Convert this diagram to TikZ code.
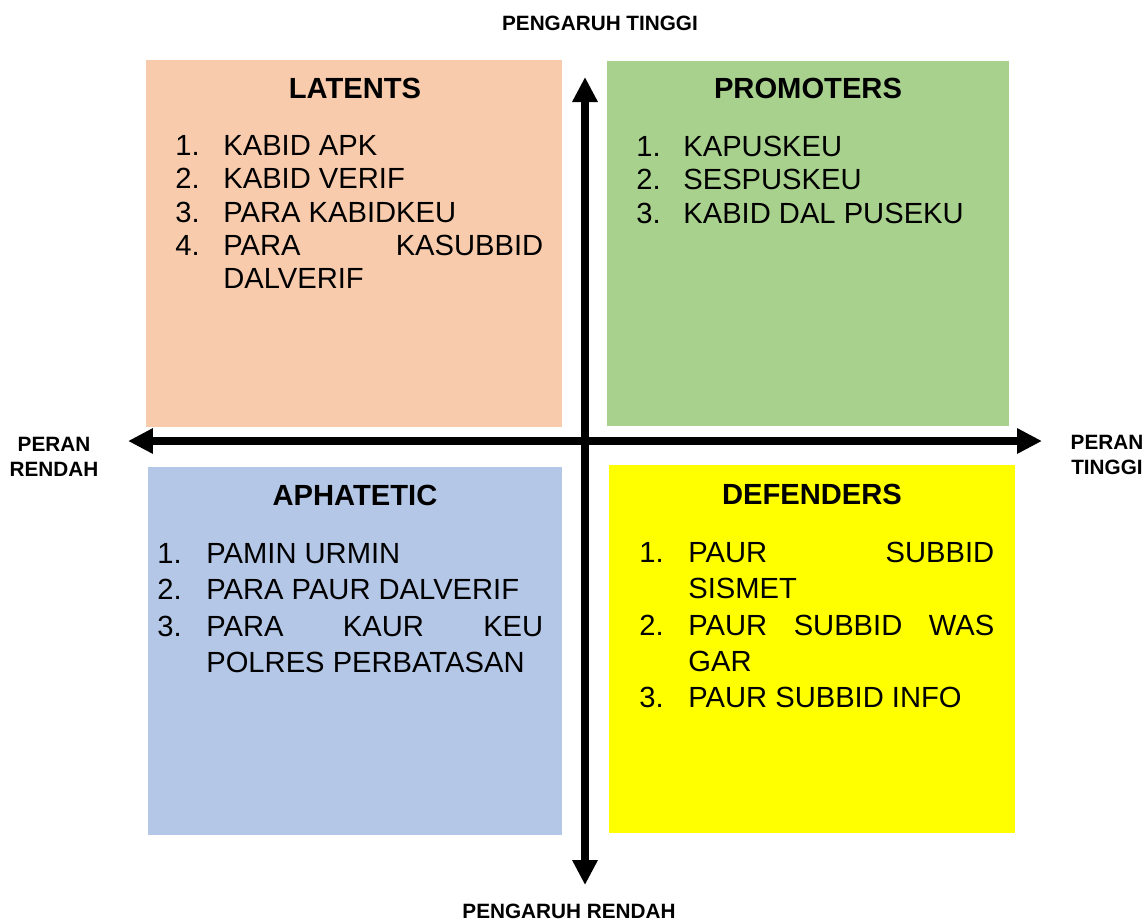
\documentclass[tikz,border=0pt]{standalone}
\usepackage{fontspec}
\setmainfont{Liberation Sans}
\usetikzlibrary{
    positioning,
    arrows.meta,
    fit
    }
\definecolor{latentfill}{HTML}{F8CBAD}
\definecolor{promoterfill}{HTML}{A9D18E}
\definecolor{apathfill}{HTML}{B4C7E7}
\definecolor{defenderfill}{HTML}{FFFF00}
\tolerance=9999
\hyphenpenalty=10000

\begin{document}
\begin{tikzpicture}[x=0.02cm, y=-0.02cm]
\tikzset{quadrant/.style =
        {
            rectangle,
            inner sep=0pt,
            draw=none
        }
}

\tikzset{heading/.style =
        {
            font=\bfseries\fontsize{16.6}{19}\selectfont,
            anchor=base,
            inner sep=0pt
        }
}

\tikzset{num/.style =
        {
            font=\fontsize{16.6}{19}\selectfont,
            anchor=base west,
            inner sep=0pt
        }
}

\tikzset{entry/.style =
        {
            num,
            align=justify
        }
}

\tikzset{axis/.style = {
            line width=0.16cm,
            {Triangle[length=0.5cm, width=0.48cm]}-{Triangle[length=0.5cm, width=0.48cm]}
        }
}

\tikzset{axislabel/.style = {
        font=\bfseries\fontsize{11.8}{14.2}\selectfont,
        align=center,
        inner sep=0pt
    }
}
		\useasboundingbox (0,0) rectangle (1147,921);

		\node[quadrant, fill=latentfill, fit={(146,60) (562,427)}] (latents) {};
		\node[quadrant, fill=promoterfill, fit={(607,61) (1009,426)}] (promoters) {};
		\node[quadrant, fill=apathfill, fit={(148,467) (562,835)}] (aphatetic) {};
		\node[quadrant, fill=defenderfill, fit={(609,465) (1015,833)}] (defenders) {};

		\node[heading] (latents-title) at (355,98) {LATENTS};
		\node[heading] (promoters-title) at (808,98) {PROMOTERS};
		\node[heading] (aphatetic-title) at (355,505) {APHATETIC};
		\node[heading] (defenders-title) at (812,504) {DEFENDERS};

		\begin{scope}[name prefix=lat-, entry/.append style={text width=6.4cm}]
			\foreach \n / \y / \txt in
				{1/155/KABID APK,
					2/188/KABID VERIF,
					3/222/PARA KABIDKEU,
					4/255/PARA KASUBBID DALVERIF}
				{
					\node[num] (num-\n) at (175,\y) {\n.};
					\node[entry] (item-\n) at (223,\y) {\txt};
				}
		\end{scope}

		\begin{scope}[name prefix=pro-, entry/.append style={text width=6.4cm}]
			\foreach \n / \y / \txt in
				{1/156/KAPUSKEU,
					2/189/SESPUSKEU,
					3/223/KABID DAL PUSEKU}
				{
					\node[num] (num-\n) at (636,\y) {\n.};
					\node[entry] (item-\n) at (683,\y) {\txt};
				}
		\end{scope}

		\begin{scope}[name prefix=aph-, entry/.append style={text width=6.74cm, font=\fontsize{16.6}{20.6}\selectfont}]
			\foreach \n / \y / \txt in
				{1/563/PAMIN URMIN,
					2/599/PARA PAUR DALVERIF,
					3/636/PARA KAUR KEU POLRES PERBATASAN}
				{
					\node[num] (num-\n) at (157,\y) {\n.};
					\node[entry] (item-\n) at (206,\y) {\txt};
				}
		\end{scope}

		\begin{scope}[name prefix=def-, entry/.append style={text width=6.12cm, font=\fontsize{16.6}{20.7}\selectfont}]
			\foreach \n / \y / \txt in
				{1/562/PAUR SUBBID SISMET,
					2/635/PAUR SUBBID WAS GAR,
					3/707/PAUR SUBBID INFO}
				{
					\node[num] (num-\n) at (639,\y) {\n.};
					\node[entry] (item-\n) at (688,\y) {\txt};
				}
		\end{scope}

		\coordinate (axis-top) at (585,77);
		\coordinate (axis-bottom) at (585,885);
		\coordinate (axis-left) at (128,441);
		\coordinate (axis-right) at (1042,441);

		\draw[axis] (axis-bottom) -- (axis-top);
		\draw[axis] (axis-left) -- (axis-right);

		\node[axislabel, anchor=base] (high-influence) at (600,30) {PENGARUH TINGGI};
		\node[axislabel, anchor=base] (low-influence) at (569,918) {PENGARUH RENDAH};
		\node[axislabel] (low-role) at (54,457) {PERAN\\RENDAH};
		\node[axislabel] (high-role) at (1107,455) {PERAN\\TINGGI};

	\end{tikzpicture}
\end{document}
